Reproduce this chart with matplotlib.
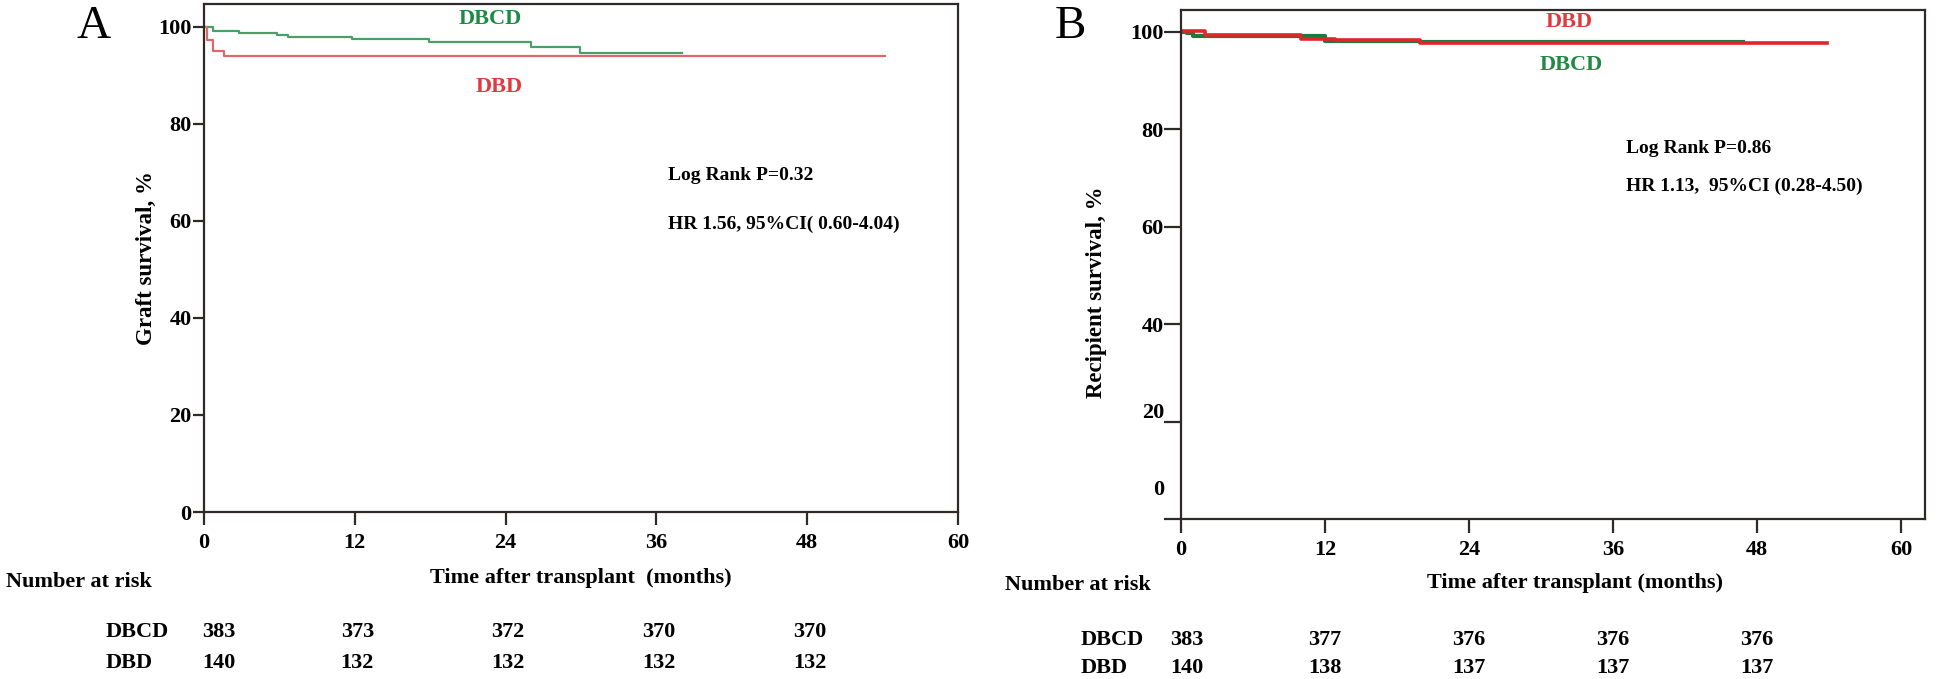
import matplotlib
matplotlib.use("Agg")
import matplotlib.pyplot as plt

plt.rcParams['font.family'] = ['Liberation Serif', 'DejaVu Serif']
plt.rcParams['font.weight'] = 'bold'

# tempos (meses) e sobrevida (%) lidos do grafico
# painel A - sobrevida do enxerto
a_dbcd_t = [0, 0.7, 2.8, 5.8, 6.7, 11.8, 17.9, 26.0, 29.9, 38.0]
a_dbcd_s = [100, 99.1, 98.7, 98.4, 97.8, 97.4, 96.8, 95.9, 94.6, 94.6]
a_dbd_t = [0, 0.2, 0.7, 1.6, 54.2]
a_dbd_s = [100, 97.3, 95.1, 94.0, 94.0]

# painel B - sobrevida do receptor
b_dbcd_t = [0, 0.5, 1.0, 12.0, 19.9, 46.8]
b_dbcd_s = [100, 99.7, 99.2, 98.2, 98.0, 98.0]
b_dbd_t = [0, 2.0, 10.0, 12.8, 19.9, 53.8]
b_dbd_s = [100.2, 99.4, 98.5, 98.3, 97.8, 97.8]

risk_times = [0, 12, 24, 36, 48]
a_risk_dbcd = [383, 373, 372, 370, 370]
a_risk_dbd = [140, 132, 132, 132, 132]
b_risk_dbcd = [383, 377, 376, 376, 376]
b_risk_dbd = [140, 138, 137, 137, 137]

x_ticks = [0, 12, 24, 36, 48, 60]
y_ticks = [0, 20, 40, 60, 80, 100]

W, H = 1946, 679
fig = plt.figure(figsize=(W / 100, H / 100), dpi=100)


def px_axes(left, right, top, bottom):
    return fig.add_axes([left / W, 1 - bottom / H, (right - left) / W, (bottom - top) / H])


spine_color = '#2f2a28'
fs = 16

# ---------------- painel A ----------------
axA = px_axes(204, 958, 4, 512)
axA.step(a_dbcd_t, a_dbcd_s, where='post', color='#4a9e68', lw=1.6)
axA.step(a_dbd_t, a_dbd_s, where='post', color='#dd6a6a', lw=1.6)
axA.set_xlim(0, 60)
axA.set_ylim(0, 104.7)
axA.set_xticks(x_ticks)
axA.set_yticks(y_ticks)
axA.tick_params(axis='y', length=8, width=1.6, pad=1, labelsize=fs, color=spine_color)
axA.tick_params(axis='x', length=9, width=1.6, pad=6, labelsize=fs, color=spine_color)
for s in axA.spines.values():
    s.set_color(spine_color)
    s.set_linewidth(1.6)
axA.set_ylabel('Graft survival, %', fontsize=16.5, fontweight='bold')
axA.yaxis.set_label_coords(-0.063, 0.5)

axA.text(-0.147, 0.933, 'A', transform=axA.transAxes, fontsize=34, fontweight='normal',
         ha='center', va='baseline')
axA.text(0.379, 0.970, 'DBCD', transform=axA.transAxes, color='#1f8a44', fontsize=fs,
         ha='center', va='center')
axA.text(0.391, 0.837, 'DBD', transform=axA.transAxes, color='#e0393e', fontsize=fs,
         ha='center', va='center')
axA.text(0.615, 0.663, 'Log Rank P=0.32', transform=axA.transAxes, fontsize=14, va='center')
axA.text(0.615, 0.567, 'HR 1.56, 95%CI( 0.60-4.04)', transform=axA.transAxes, fontsize=14,
         va='center')
axA.text(0.5, -0.13, 'Time after transplant  (months)', transform=axA.transAxes,
         fontsize=fs, ha='center', va='center')
axA.text(-0.263, -0.138, 'Number at risk', transform=axA.transAxes, fontsize=fs,
         ha='left', va='center')

for row, lab, yy in [(a_risk_dbcd, 'DBCD', -0.236), (a_risk_dbd, 'DBD', -0.297)]:
    axA.text(-0.131, yy, lab, transform=axA.transAxes, fontsize=fs, ha='left', va='center')
    for i, (t, n) in enumerate(zip(risk_times, row)):
        xx = t + (1.2 if i == 0 else 0.2)
        axA.text(xx, yy, str(n), transform=axA.get_xaxis_transform(), fontsize=fs,
                 ha='center', va='center')

# ---------------- painel B ----------------
axB = px_axes(1181, 1925, 10, 519)
axB.step(b_dbcd_t, b_dbcd_s, where='post', color='#1c7a3c', lw=3)
axB.step(b_dbd_t, b_dbd_s, where='post', color='#e0262a', lw=2.6)
axB.set_xlim(0, 62)
axB.set_ylim(0, 104.5)
axB.set_xticks(x_ticks)
axB.set_yticks(y_ticks)
axB.set_yticklabels(['', '', '40', '60', '80', '100'])
axB.tick_params(axis='y', length=12, width=1.6, pad=0.5, labelsize=fs, color=spine_color)
axB.tick_params(axis='x', length=10, width=1.6, pad=5, labelsize=fs, color=spine_color)
for s in axB.spines.values():
    s.set_color(spine_color)
    s.set_linewidth(1.6)
# rotulos 0 e 20 ficam deslocados na figura original
axB.text(-0.023, 21.8, '20', transform=axB.get_yaxis_transform(), fontsize=fs,
         ha='right', va='center')
axB.text(-0.023, 5.9, '0', transform=axB.get_yaxis_transform(), fontsize=fs,
         ha='right', va='center')
axB.set_ylabel('Recipient survival, %', fontsize=16.5, fontweight='bold')
axB.yaxis.set_label_coords(-0.1, 0.446)

axB.text(-0.149, 0.945, 'B', transform=axB.transAxes, fontsize=34, fontweight='normal',
         ha='center', va='baseline')
axB.text(0.522, 0.976, 'DBD', transform=axB.transAxes, color='#e0393e', fontsize=fs,
         ha='center', va='center')
axB.text(0.525, 0.891, 'DBCD', transform=axB.transAxes, color='#1f8a44', fontsize=fs,
         ha='center', va='center')
axB.text(0.598, 0.727, 'Log Rank P=0.86', transform=axB.transAxes, fontsize=14, va='center')
axB.text(0.598, 0.654, 'HR 1.13,  95%CI (0.28-4.50)', transform=axB.transAxes, fontsize=14,
         va='center')
axB.text(0.53, -0.126, 'Time after transplant (months)', transform=axB.transAxes,
         fontsize=fs, ha='center', va='center')
axB.text(-0.236, -0.13, 'Number at risk', transform=axB.transAxes, fontsize=fs,
         ha='left', va='center')

for row, lab, yy in [(b_risk_dbcd, 'DBCD', -0.238), (b_risk_dbd, 'DBD', -0.292)]:
    axB.text(-0.135, yy, lab, transform=axB.transAxes, fontsize=fs, ha='left', va='center')
    for i, (t, n) in enumerate(zip(risk_times, row)):
        xx = t + (0.5 if i == 0 else 0.0)
        axB.text(xx, yy, str(n), transform=axB.get_xaxis_transform(), fontsize=fs,
                 ha='center', va='center')

fig.savefig('out.png', dpi=100)
